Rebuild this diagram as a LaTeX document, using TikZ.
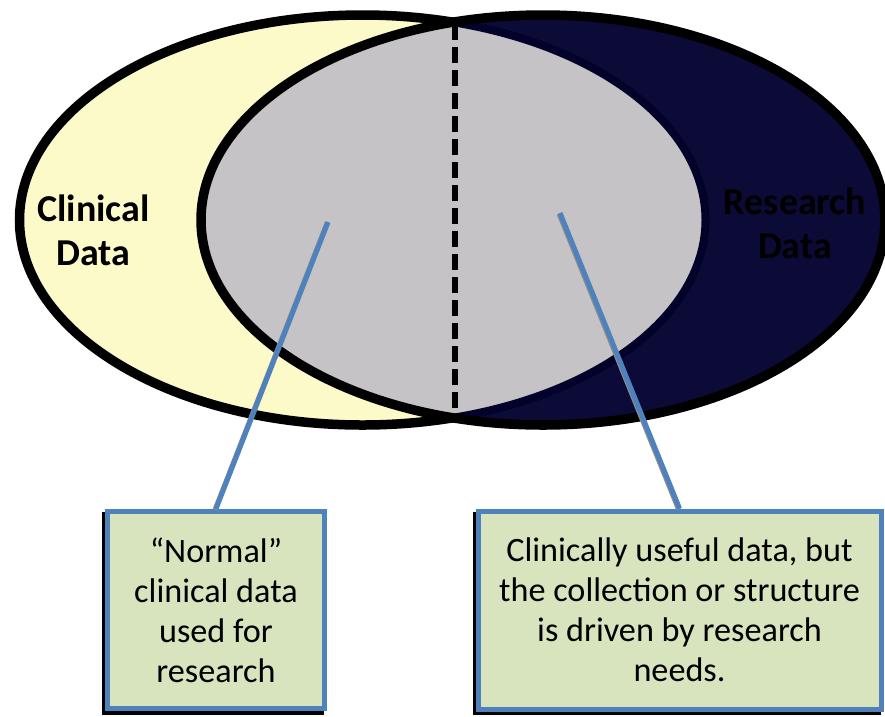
\documentclass[tikz,border=0pt]{standalone}
\usepackage{fontspec}
\setmainfont{Carlito}
\usetikzlibrary{shadows}
\definecolor{clinY}{HTML}{FCFAC8}
\definecolor{resN}{HTML}{0C0A36}
\definecolor{overG}{HTML}{C5C3C6}
\definecolor{edgeN}{HTML}{02022A}
\definecolor{boxF}{HTML}{D7E4BD}
\definecolor{boxB}{HTML}{4F81BD}
\begin{document}
\begin{tikzpicture}[x=1pt,y=-1pt,
  ovalA/.style={x radius=343pt, y radius=205pt},
  ovalB/.style={x radius=342pt, y radius=205pt},
  setlabel/.style={align=center, inner sep=0pt, font=\fontsize{38}{44}\selectfont\bfseries},
  infobox/.style={draw=boxB, line width=5pt, fill=boxF, align=center, inner sep=0pt,
    font=\fontsize{34.2}{40}\selectfont,
    general shadow={draw=black, fill=black, line width=5pt, shadow xshift=-3pt, shadow yshift=-3.5pt}},
  connector/.style={draw=boxB, line width=5pt,
    preaction={draw=black!45, line width=5pt, transform canvas={shift={(-0.9pt,-0.9pt)}}}},
  divider/.style={draw=black, line width=6.5pt, dash pattern=on 16pt off 7pt}
]
\useasboundingbox (0,0) rectangle (885,716);
\coordinate (A) at (362.5,220);
\coordinate (B) at (543,220);
% clinical data oval
\path[fill=clinY, draw=black, line width=9.5pt] (A) ellipse [ovalA];
% research data oval
\path[fill=resN] (B) ellipse [ovalB];
% overlap
\begin{scope}
  \clip (A) ellipse [ovalA];
  \fill[overG] (B) ellipse [ovalB];
\end{scope}
\begin{scope}
  \clip (B) ellipse [ovalB];
  \draw[edgeN, line width=8pt] (A) ellipse [ovalA];
\end{scope}
\draw[black, line width=9.5pt] (B) ellipse [ovalB];
% dashed divider
\coordinate (dtop) at (455,24);
\coordinate (dbot) at (455,414);
\draw[divider] (dtop) -- (dbot);
% labels
\node[setlabel, text=black] (clin) at (93.5,230) {Clinical\\Data};
\node[setlabel, text=black] (res) at (795,223.5) {Research\\Data};
% boxes
\node[infobox, minimum width=217pt, minimum height=197.5pt] (lbox) at (216,610)
  {“Normal”\\clinical data\\used for\\research};
\node[infobox, minimum width=403pt, minimum height=198pt] (rbox) at (679.5,610)
  {Clinically useful data, but\\the collection or structure\\is driven by research\\needs.};
% connectors
\coordinate (lp) at (328,222);
\coordinate (rp) at (560,213);
\draw[connector] (lp) -- (lbox.north);
\draw[connector] (rp) -- (rbox.north);
\end{tikzpicture}
\end{document}
